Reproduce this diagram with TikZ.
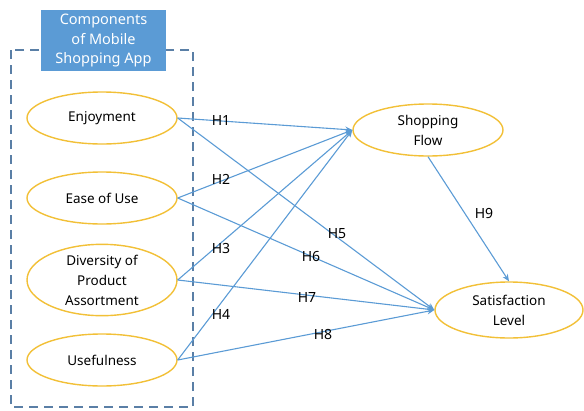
\documentclass[tikz,border=0pt]{standalone}
\usepackage{fontspec}
\setmainfont{Noto Sans}
\usetikzlibrary{arrows.meta,shapes.geometric}
\definecolor{gold}{HTML}{F2C037}
\definecolor{linkblue}{HTML}{5B9BD5}
\definecolor{framegray}{HTML}{5A7FA6}
\begin{document}
\begin{tikzpicture}[x=1pt,y=-1pt,
  construct/.style={ellipse,draw=gold,line width=1.4pt,fill=white,minimum width=150pt,minimum height=52pt,inner sep=0pt,align=center,font=\fontsize{13.5}{20}\selectfont},
  link/.style={draw=linkblue,line width=1.1pt,-{Stealth[length=7pt,width=6pt]}},
  hyp/.style={font=\fontsize{14}{16}\selectfont,inner sep=1pt}]
\useasboundingbox (0,0) rectangle (584,410);
% dashed frame around the app components
\draw[framegray,line width=1.3pt,dash pattern=on 9pt off 6pt] (11,50) rectangle (193,407);
% title box
\node[fill=linkblue,text=white,minimum width=125pt,minimum height=61pt,inner sep=0pt,align=center,font=\fontsize{14.5}{19.5}\selectfont] (title) at (103.5,40.5) {Components\\of Mobile\\Shopping App};
% constructs
\node[construct] (enj) at (102,118) {Enjoyment};
\node[construct] (ease) at (102,198) {Ease of Use};
\node[construct] (div) at (102,280) {Diversity of\\Product\\Assortment};
\node[construct] (use) at (102,360) {Usefulness};
\node[construct] (flow) at (428,130) {Shopping\\Flow};
\node[construct,minimum width=148pt,minimum height=56pt] (sat) at (509,310) {Satisfaction\\Level};
% hypothesised paths
\draw[link] (enj.east) -- (flow.west);
\draw[link] (ease.east) -- (flow.west);
\draw[link] (div.east) -- (flow.west);
\draw[link] (use.east) -- (flow.west);
\draw[link] (enj.east) -- (sat.west);
\draw[link] (ease.east) -- (sat.west);
\draw[link] (div.east) -- (sat.west);
\draw[link] (use.east) -- (sat.west);
\draw[link] (flow.south) -- (sat.north);
% path labels
\node[hyp] (h1) at (221,120) {H1};
\node[hyp] (h2) at (221,179) {H2};
\node[hyp] (h3) at (221,248) {H3};
\node[hyp] (h4) at (221,314) {H4};
\node[hyp] (h5) at (337,234) {H5};
\node[hyp] (h6) at (311,256) {H6};
\node[hyp] (h7) at (307,297) {H7};
\node[hyp] (h8) at (323,334) {H8};
\node[hyp] (h9) at (484,213) {H9};
\end{tikzpicture}
\end{document}
